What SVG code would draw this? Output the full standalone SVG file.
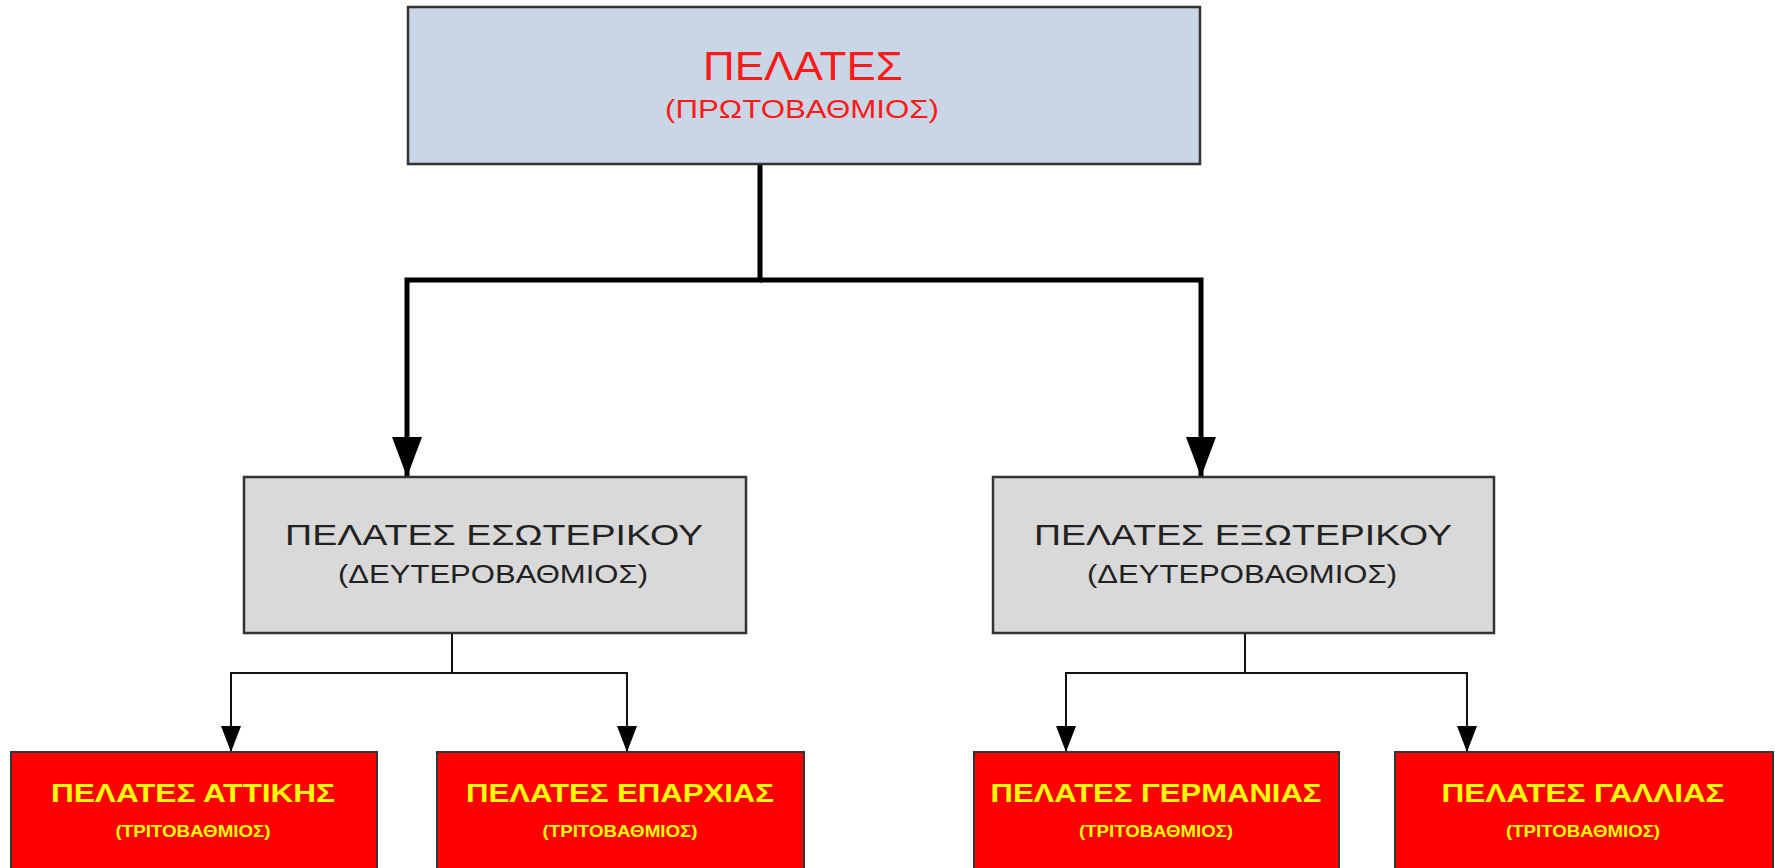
<svg xmlns="http://www.w3.org/2000/svg" width="1775" height="868" viewBox="0 0 1775 868">
<style>
.box{stroke:#333;stroke-width:2.5}
.top{fill:#C9D6E5}
.mid{fill:#D9D9D9}
.leaf{fill:#FF0000;stroke:#333;stroke-width:2}
.t1{font-family:"Liberation Sans",Arial,sans-serif;fill:#FF1A1A;text-anchor:middle}
.t2{font-family:"Liberation Sans",Arial,sans-serif;fill:#222;text-anchor:middle}
.t3{font-family:"Liberation Sans",Arial,sans-serif;font-weight:bold;fill:#FFFF00;text-anchor:middle}
.thick{fill:none;stroke:#000;stroke-width:5}
.thin{fill:none;stroke:#111;stroke-width:2}
</style>
<defs>
<marker id="ab" markerUnits="userSpaceOnUse" viewBox="0 0 40 30" refX="40" refY="15" markerWidth="40" markerHeight="30" orient="auto"><path d="M0,0 L40,15 L0,30 z" fill="#000"/></marker>
<marker id="as" markerUnits="userSpaceOnUse" viewBox="0 0 26 20" refX="26" refY="10" markerWidth="26" markerHeight="20" orient="auto"><path d="M0,0 L26,10 L0,20 z" fill="#000"/></marker>
</defs>
<g id="connectors">
<path class="thick" d="M760,164 V280 H407 V477" marker-end="url(#ab)"/>
<path class="thick" d="M760,280 H1201 V477" marker-end="url(#ab)"/>
<path class="thin" d="M452,633 V673 H231 V752" marker-end="url(#as)"/>
<path class="thin" d="M452,673 H627 V752" marker-end="url(#as)"/>
<path class="thin" d="M1245,633 V673 H1066 V752" marker-end="url(#as)"/>
<path class="thin" d="M1245,673 H1467 V752" marker-end="url(#as)"/>
</g>
<g id="n-root">
<rect class="box top" x="408" y="7" width="792" height="157"/>
<text class="t1" x="803" y="80" font-size="40" textLength="200" lengthAdjust="spacingAndGlyphs">ΠΕΛΑΤΕΣ</text>
<text class="t1" x="802" y="118" font-size="25" textLength="274" lengthAdjust="spacingAndGlyphs">(ΠΡΩΤΟΒΑΘΜΙΟΣ)</text>
</g>
<g id="n-eso">
<rect class="box mid" x="244" y="477" width="502" height="156"/>
<text class="t2" x="494" y="545" font-size="30" textLength="418" lengthAdjust="spacingAndGlyphs">ΠΕΛΑΤΕΣ ΕΣΩΤΕΡΙΚΟΥ</text>
<text class="t2" x="493" y="583" font-size="26" textLength="310" lengthAdjust="spacingAndGlyphs">(ΔΕΥΤΕΡΟΒΑΘΜΙΟΣ)</text>
</g>
<g id="n-exo">
<rect class="box mid" x="993" y="477" width="501" height="156"/>
<text class="t2" x="1243" y="545" font-size="30" textLength="418" lengthAdjust="spacingAndGlyphs">ΠΕΛΑΤΕΣ ΕΞΩΤΕΡΙΚΟΥ</text>
<text class="t2" x="1242" y="583" font-size="26" textLength="310" lengthAdjust="spacingAndGlyphs">(ΔΕΥΤΕΡΟΒΑΘΜΙΟΣ)</text>
</g>
<g id="n-attikis">
<rect class="leaf" x="11" y="752" width="366" height="130"/>
<text class="t3" x="193" y="802" font-size="26" textLength="284" lengthAdjust="spacingAndGlyphs">ΠΕΛΑΤΕΣ ΑΤΤΙΚΗΣ</text>
<text class="t3" x="193" y="837" font-size="17" textLength="155" lengthAdjust="spacingAndGlyphs">(ΤΡΙΤΟΒΑΘΜΙΟΣ)</text>
</g>
<g id="n-eparxias">
<rect class="leaf" x="437" y="752" width="367" height="130"/>
<text class="t3" x="620" y="802" font-size="26" textLength="308" lengthAdjust="spacingAndGlyphs">ΠΕΛΑΤΕΣ ΕΠΑΡΧΙΑΣ</text>
<text class="t3" x="620" y="837" font-size="17" textLength="155" lengthAdjust="spacingAndGlyphs">(ΤΡΙΤΟΒΑΘΜΙΟΣ)</text>
</g>
<g id="n-germanias">
<rect class="leaf" x="974" y="752" width="365" height="130"/>
<text class="t3" x="1156" y="802" font-size="26" textLength="331" lengthAdjust="spacingAndGlyphs">ΠΕΛΑΤΕΣ ΓΕΡΜΑΝΙΑΣ</text>
<text class="t3" x="1156" y="837" font-size="17" textLength="154" lengthAdjust="spacingAndGlyphs">(ΤΡΙΤΟΒΑΘΜΙΟΣ)</text>
</g>
<g id="n-gallias">
<rect class="leaf" x="1395" y="752" width="378" height="130"/>
<text class="t3" x="1583" y="802" font-size="26" textLength="283" lengthAdjust="spacingAndGlyphs">ΠΕΛΑΤΕΣ ΓΑΛΛΙΑΣ</text>
<text class="t3" x="1583" y="837" font-size="17" textLength="154" lengthAdjust="spacingAndGlyphs">(ΤΡΙΤΟΒΑΘΜΙΟΣ)</text>
</g>
</svg>
